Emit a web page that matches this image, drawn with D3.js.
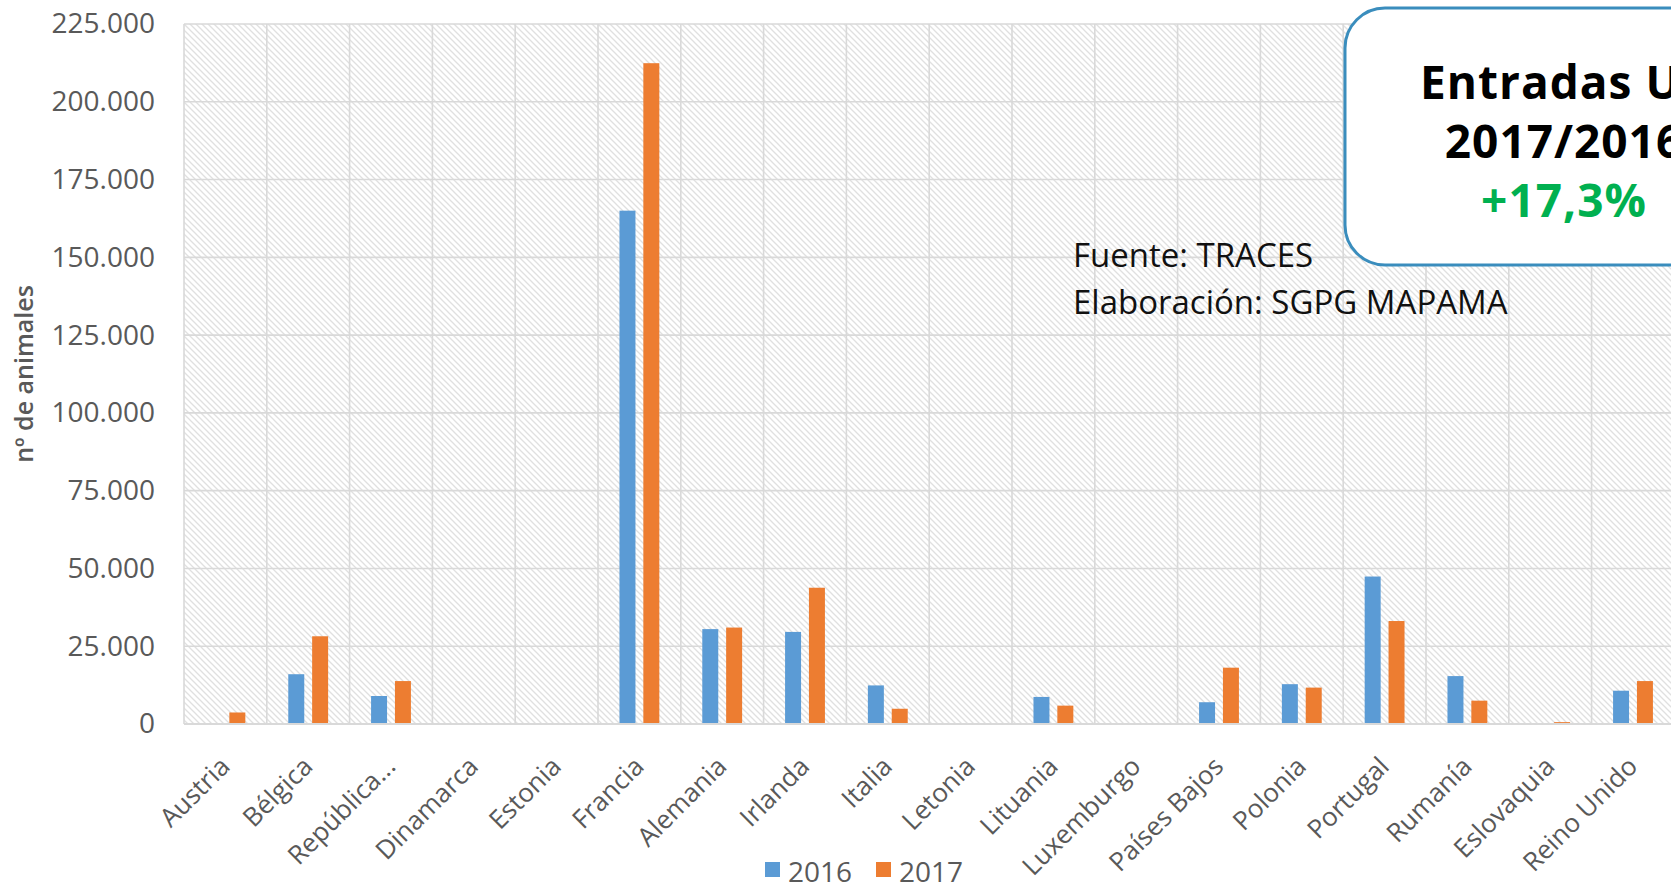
<!DOCTYPE html>
<html>
<head>
<meta charset="utf-8">
<script src="https://cdn.jsdelivr.net/npm/d3@7"></script>
<style>
  body { margin: 0; background: #fff; }
  .tick text { font-family: "Open Sans", sans-serif; fill: #595959; }
</style>
</head>
<body>
<div class="graph"></div>
<script>
var countries = ["Austria", "Bélgica", "República...", "Dinamarca", "Estonia", "Francia",
  "Alemania", "Irlanda", "Italia", "Letonia", "Lituania", "Luxemburgo", "Países Bajos",
  "Polonia", "Portugal", "Rumanía", "Eslovaquia", "Reino Unido"];
var years = ["2016", "2017"];
var values2016 = [0, 16000, 9000, 0, 0, 165000, 30500, 29600, 12400, 0, 8700, 0, 7000, 12800, 47400, 15400, 0, 10700];
var values2017 = [3700, 28200, 13800, 0, 0, 212400, 31000, 43800, 4900, 0, 5900, 0, 18100, 11700, 33100, 7500, 600, 13800];
var yTicks = [0, 25000, 50000, 75000, 100000, 125000, 150000, 175000, 200000, 225000];
var noteLines = ["Fuente: TRACES", "Elaboración: SGPG MAPAMA"];
var boxLines = ["Entradas UE", "2017/2016", "+17,3%"];

var W = 1671, H = 884;
var margin = {top: 24, left: 184},
    width = 82.8 * countries.length,
    height = 700;

var es = d3.formatLocale({decimal: ",", thousands: ".", grouping: [3], currency: ["", " €"]});
var fmt = es.format(",d");

var color = d3.scaleOrdinal().domain(years).range(["#5b9bd5", "#ed7d31"]);

var x0 = d3.scaleBand().domain(countries).range([0, width]);
var x1 = d3.scaleBand().domain(years).range([0, x0.bandwidth()])
    .paddingInner(0.33).paddingOuter(0.9);
var y = d3.scaleLinear().domain([0, 225000]).range([height, 0]);

var svg = d3.select(".graph").append("svg")
    .attr("width", W)
    .attr("height", H)
    .style("display", "block");

svg.append("rect").attr("width", W).attr("height", H).attr("fill", "#fff");

// diagonal hatch of the plot area
var pat = svg.append("defs").append("pattern")
    .attr("id", "hatch")
    .attr("patternUnits", "userSpaceOnUse")
    .attr("width", 6).attr("height", 6);
pat.append("rect").attr("width", 6).attr("height", 6).attr("fill", "#fff");
pat.append("path")
    .attr("d", "M0,0 L6,6 M-1,5 L1,7 M5,-1 L7,1")
    .attr("stroke", "#e0e0e0")
    .attr("stroke-width", 1.3);

var g = svg.append("g")
    .attr("transform", "translate(" + margin.left + "," + margin.top + ")");

g.append("rect")
    .attr("width", width).attr("height", height)
    .attr("fill", "url(#hatch)");

// gridlines
g.selectAll(".hgrid")
  .data(yTicks)
  .enter().append("line")
    .attr("class", "hgrid")
    .attr("x1", 0).attr("x2", width)
    .attr("y1", function(d) { return y(d); })
    .attr("y2", function(d) { return y(d); })
    .attr("stroke", "#d9d9d9").attr("stroke-width", 1.6);

g.selectAll(".vgrid")
  .data(countries)
  .enter().append("line")
    .attr("class", "vgrid")
    .attr("x1", function(d) { return x0(d); })
    .attr("x2", function(d) { return x0(d); })
    .attr("y1", 0).attr("y2", height)
    .attr("stroke", "#d9d9d9").attr("stroke-width", 1.6);

// y axis labels
var yAxis = d3.axisLeft(y)
    .tickValues(yTicks)
    .tickSize(0)
    .tickPadding(29)
    .tickFormat(fmt);

g.append("g")
    .attr("class", "y axis")
    .call(yAxis)
    .call(function(a) { a.select(".domain").remove(); })
    .selectAll("text")
      .style("font-size", "28px");

// bars
var rows = countries.map(function(c, i) {
  return {country: c, vals: [{year: "2016", v: values2016[i]}, {year: "2017", v: values2017[i]}]};
});

var groups = g.selectAll(".grp")
  .data(rows)
  .enter().append("g")
    .attr("class", "grp")
    .attr("transform", function(d) { return "translate(" + x0(d.country) + ",0)"; });

groups.selectAll("rect")
  .data(function(d) { return d.vals; })
  .enter().append("rect")
    .attr("x", function(d) { return x1(d.year); })
    .attr("width", x1.bandwidth())
    .attr("y", function(d) { return y(d.v); })
    .attr("height", function(d) { return height - y(d.v); })
    .attr("fill", function(d) { return color(d.year); });

// baseline
g.append("line")
    .attr("x1", 0).attr("x2", width)
    .attr("y1", y(0)).attr("y2", y(0))
    .attr("stroke", "#d9d9d9").attr("stroke-width", 2);

// x axis labels
var xAxis = d3.axisBottom(x0).tickSize(0).tickPadding(0);
var xg = g.append("g")
    .attr("class", "x axis")
    .attr("transform", "translate(0," + height + ")")
    .call(xAxis);
xg.select(".domain").remove();
xg.selectAll("text")
    .attr("y", 0).attr("dy", 0)
    .attr("transform", "translate(6,44) rotate(-45)")
    .style("text-anchor", "end")
    .style("font-size", "26px");

// y axis title
svg.append("text")
    .attr("transform", "translate(33,374) rotate(-90)")
    .attr("text-anchor", "middle")
    .style("font-family", "'Open Sans', sans-serif")
    .style("font-weight", "600")
    .style("font-size", "25px")
    .attr("fill", "#595959")
    .text("nº de animales");

// source note
svg.append("g").selectAll("text")
  .data(noteLines)
  .enter().append("text")
    .attr("x", 1073)
    .attr("y", function(d, i) { return 267 + i * 47; })
    .style("font-family", "'Open Sans', sans-serif")
    .style("font-size", "33px")
    .attr("fill", "#111")
    .text(function(d) { return d; });

// highlight box
svg.append("rect")
    .attr("x", 1345).attr("y", 8)
    .attr("width", 432).attr("height", 257)
    .attr("rx", 40).attr("ry", 40)
    .attr("fill", "#fff")
    .attr("stroke", "#3a8dbd")
    .attr("stroke-width", 3);

svg.append("g").selectAll("text")
  .data(boxLines)
  .enter().append("text")
    .attr("x", 1564)
    .attr("y", function(d, i) { return 99 + i * 59; })
    .attr("text-anchor", "middle")
    .style("font-family", "'Open Sans', sans-serif")
    .style("font-weight", "bold")
    .style("font-size", "46px")
    .style("letter-spacing", "1px")
    .attr("fill", function(d, i) { return i === 2 ? "#00b050" : "#000"; })
    .text(function(d) { return d; });

// legend
var legend = svg.append("g")
    .attr("transform", "translate(765,862)");
var li = legend.selectAll(".leg")
  .data(years)
  .enter().append("g")
    .attr("class", "leg")
    .attr("transform", function(d, i) { return "translate(" + (i * 111) + ",0)"; });
li.append("rect")
    .attr("width", 15).attr("height", 15)
    .attr("fill", function(d) { return color(d); });
li.append("text")
    .attr("x", 23).attr("y", 20)
    .style("font-family", "'Open Sans', sans-serif")
    .style("font-size", "28px")
    .attr("fill", "#595959")
    .text(function(d) { return d; });
</script>
</body>
</html>
